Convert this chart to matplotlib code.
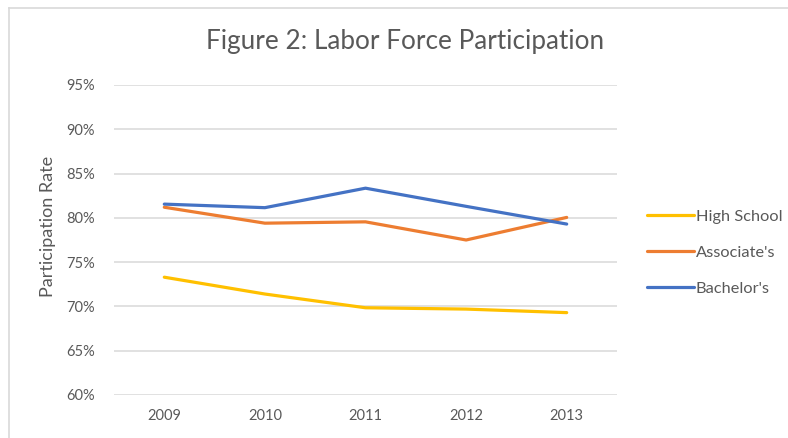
import matplotlib
matplotlib.use("Agg")
import matplotlib.pyplot as plt
from matplotlib.lines import Line2D
from matplotlib.ticker import FuncFormatter

years = ["2009", "2010", "2011", "2012", "2013"]
high_school = [73.3, 71.4, 69.85, 69.7, 69.3]
associates = [81.2, 79.4, 79.55, 77.5, 80.05]
bachelors = [81.55, 81.15, 83.35, 81.3, 79.3]
series_names = ["High School", "Associate's", "Bachelor's"]
y_ticks = [60, 65, 70, 75, 80, 85, 90, 95]

plt.rcParams['font.family'] = ['Lato', 'DejaVu Sans']
W, H = 788, 438
fig = plt.figure(figsize=(W / 100, H / 100), dpi=100)
ax = fig.add_axes([114 / W, 1 - 395 / H, (617 - 114) / W, (395 - 85) / H])

colors = ["#FFC000", "#ED7D31", "#4472C4"]
x = list(range(len(years)))
for vals, name, c in zip([high_school, associates, bachelors], series_names, colors):
    ax.plot(x, vals, color=c, lw=2.3, label=name, solid_capstyle='round', solid_joinstyle='round')

ax.set_xlim(-0.5, len(years) - 0.5)
ax.set_ylim(60, 95)
ax.set_xticks(x)
ax.set_xticklabels(years)
ax.set_yticks(y_ticks)
ax.yaxis.set_major_formatter(FuncFormatter(lambda v, p: f"{v:.0f}%"))
ax.grid(axis='y', color='#D9D9D9', lw=1.1)
ax.set_axisbelow(True)
for s in ax.spines.values():
    s.set_visible(False)
ax.tick_params(length=0, colors='#595959', labelsize=10.5)
ax.tick_params(axis='y', pad=14)
ax.tick_params(axis='x', pad=10)

ax.set_ylabel("Participation Rate", color='#595959', fontsize=13)
ax.yaxis.set_label_coords(-0.116, 0.545)

fig.text(405 / W, 1 - 42 / H, "Figure 2: Labor Force Participation", ha='center', va='center',
         color='#595959', fontsize=18.8)

leg = ax.legend(loc='center left', bbox_to_anchor=(640 / W, 1 - 252.5 / H), bbox_transform=fig.transFigure,
                frameon=False, fontsize=11.8, labelspacing=1.32, handlelength=2.9, handletextpad=0.1,
                borderaxespad=0)
for t in leg.get_texts():
    t.set_color('#595959')

fig.add_artist(Line2D([8.5 / W, 8.5 / W], [0, 1 - 7.5 / H], transform=fig.transFigure, color='#D9D9D9', lw=1.2))
fig.add_artist(Line2D([8.5 / W, 1], [1 - 7.5 / H, 1 - 7.5 / H], transform=fig.transFigure, color='#D9D9D9', lw=1.2))

fig.savefig("out.png", dpi=100)
